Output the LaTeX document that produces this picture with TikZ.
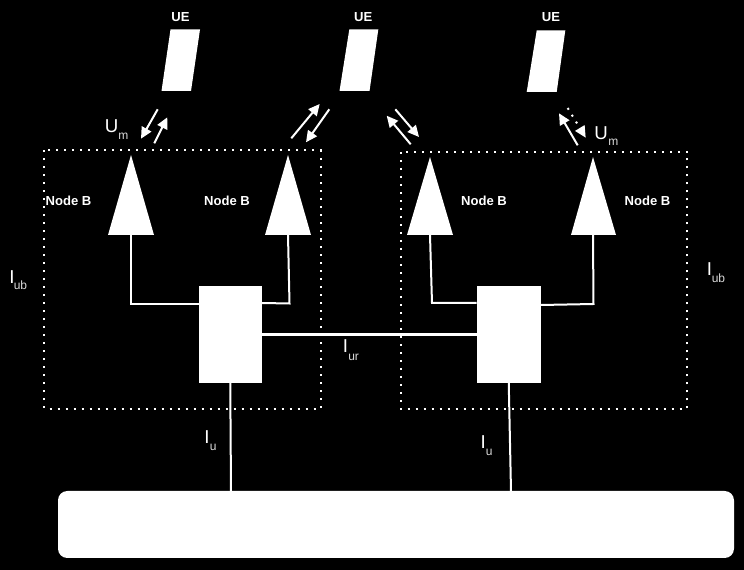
\documentclass[tikz,border=0pt]{standalone}
\usepackage{fontspec}
\setmainfont{Liberation Sans}
\usetikzlibrary{arrows.meta}
\tikzset{
  x=0.75pt,y=-0.75pt,
  solidw/.style={fill=white,draw=none},
  boxw/.style={fill=white,draw=none,inner sep=0pt,outer sep=0pt,minimum width=#1},
  wire/.style={draw=white,line width=1.5pt,line join=miter},
  link/.style={draw=white,line width=1.5pt,-{Triangle[width=8pt,length=8.5pt]}},
  dotbox/.style={draw=white,line width=1.5pt,dash pattern=on 1.5pt off 4.5pt},
  bold label/.style={text=white,font=\bfseries\fontsize{9.8}{11}\selectfont,inner sep=0pt,anchor=base},
  big letter/.style={text=white,font=\fontsize{14}{16}\selectfont,inner sep=0pt,anchor=base west},
  small letter/.style={text=white!85!black,font=\fontsize{9}{11}\selectfont,inner sep=0pt,anchor=base west},
}
\begin{document}
\begin{tikzpicture}
\fill[black] (0,0) rectangle (744,570);
\useasboundingbox (0,0) rectangle (744,570);
% dotted Node B groups
\draw[dotbox] (44,150.5) rectangle (320.5,409);
\draw[dotbox] (400.5,152) rectangle (687,409);
% equipment
\node[boxw=63.5pt*0.75,minimum height=97*0.75pt] (rncL) at (230.25,334.5) {};
\node[boxw=64.5pt*0.75,minimum height=97*0.75pt] (rncR) at (508.75,334.5) {};
\node[boxw=676pt*0.75,minimum height=67*0.75pt,rounded corners=7pt] (cn) at (396,524.5) {};
% antennas
\fill[solidw] (131,155) coordinate (tipA) -- (154,235) -- (108,235) -- cycle;
\fill[solidw] (288,155) coordinate (tipB) -- (311,235) -- (265,235) -- cycle;
\fill[solidw] (430,157) coordinate (tipC) -- (453,235) -- (407,235) -- cycle;
\fill[solidw] (593,157) coordinate (tipD) -- (616,235) -- (571,235) -- cycle;
\coordinate (baseA) at (131,235); \coordinate (baseB) at (288,235);
\coordinate (baseC) at (430,235); \coordinate (baseD) at (593,235);
% handsets
\fill[solidw] (170.5,29.5) -- (200,29.5) -- (191,91) -- (161.5,91) -- cycle;
\fill[solidw] (349.3,29.5) -- (378.3,29.5) -- (369.5,91) -- (339.5,91) -- cycle;
\fill[solidw] (536.7,30.5) -- (565.3,30.5) -- (556.7,92) -- (526.7,92) -- cycle;
% wiring
\draw[wire] (baseA) -- (131,304) -- (198.5,304);
\draw[wire] (baseB) -- (289.5,303.5) -- (262,303);
\draw[wire] (baseC) -- (432,303) -- (476.5,303);
\draw[wire] (baseD) -- (593.5,304) -- (541,305);
\draw[draw=white,line width=2.7pt] (rncL.east |- 0,334.5) -- (rncR.west |- 0,334.5);
\draw[wire] (rncL.south) -- (231,491);
\draw[wire] (rncR.south) -- (511,491);
% radio links
\draw[link] (157.7,109.3) -- (141,138.7);
\draw[link] (154.3,143.3) -- (167.3,117.3);
\draw[link] (291.3,138.3) -- (319.7,104);
\draw[link] (329.3,109.3) -- (306,142.3);
\draw[link] (395.3,109.3) -- (419,137);
\draw[link] (410.7,144.3) -- (386.7,115.7);
\draw[link] (577.7,145.3) -- (559,113.3);
\draw[draw=white,line width=1.5pt,dash pattern=on 1.5pt off 4.5pt,-{Triangle[width=8pt,length=8.5pt]}] (567.7,108) -- (585.7,137.7);
% labels
\node[bold label] (ue1) at (180.5,22) {UE};
\node[bold label] (ue2) at (363.3,22) {UE};
\node[bold label] (ue3) at (551,22) {UE};
\node[bold label] (nb1) at (68.5,205.3) {Node B};
\node[bold label] (nb2) at (227,205.3) {Node B};
\node[bold label] (nb3) at (484,205.3) {Node B};
\node[bold label] (nb4) at (647.5,205.3) {Node B};
\node[big letter] (um1) at (104.5,133) {U}; \node[small letter] (um1s) at (118,139.3) {m};
\node[big letter] (um2) at (594,139.3) {U}; \node[small letter] (um2s) at (608,145.7) {m};
\node[big letter] (iub1) at (9,283.5) {I}; \node[small letter] (iub1s) at (13.5,290) {ub};
\node[big letter] (iub2) at (706.5,276) {I}; \node[small letter] (iub2s) at (711.5,282.7) {ub};
\node[big letter] (iur) at (342.7,353) {I}; \node[small letter] (iurs) at (348,360.7) {ur};
\node[big letter] (iu1) at (204,444) {I}; \node[small letter] (iu1s) at (209.5,450.7) {u};
\node[big letter] (iu2) at (480.4,448.5) {I}; \node[small letter] (iu2s) at (485.5,455.7) {u};
\end{tikzpicture}
\end{document}
